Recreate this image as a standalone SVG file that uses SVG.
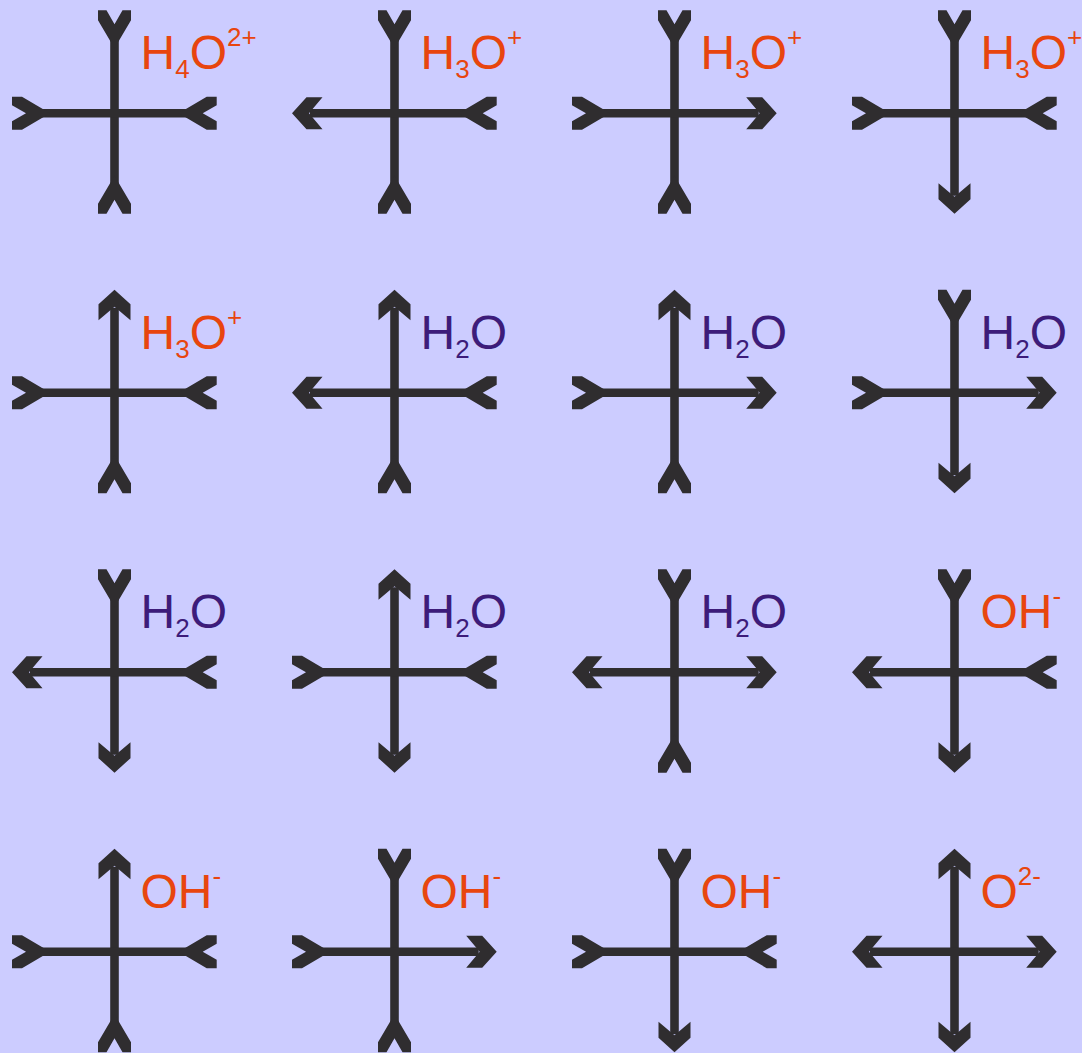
<svg xmlns="http://www.w3.org/2000/svg" xmlns:xlink="http://www.w3.org/1999/xlink" width="1082" height="1053" viewBox="0 0 1082 1053">
<style>
.s{stroke:#2f2d2f;stroke-width:8.6;stroke-linecap:butt}
.h{fill:#2f2d2f}
text{font-family:"Liberation Sans",Arial,sans-serif;font-size:48px}
.o{fill:#e8450e}
.p{fill:#3d1c7a}
.sb,.sp{font-size:26px}
</style>
<defs>
<g id="X"><line class="s" x1="0" y1="-85" x2="0" y2="82.5"/><line class="s" x1="-84.5" y1="0" x2="84.2" y2="0"/></g>
<path id="A" class="h" d="M0,0 L16,14.5 L16,30.5 L0,17 L-16,30.5 L-16,14.5 Z"/>
<path id="T" class="h" d="M-16.5,0 L-8,0 L0,14 L8,0 L16.5,0 L16.5,10 L0,38 L-16.5,10 Z"/>
</defs>
<rect width="1082" height="1053" fill="#ccccff"/>

<g id="n00" transform="translate(114.5,113.2)"><use href="#X"/>
<use href="#T" transform="translate(0,-103)"/><use href="#T" transform="translate(-102.5,0) rotate(-90)"/><use href="#T" transform="translate(102.2,0) rotate(90)"/><use href="#T" transform="translate(0,100.5) rotate(180)"/>
<text class="o" x="26" y="-44">H<tspan class="sb" dy="9">4</tspan><tspan dy="-9">O</tspan><tspan class="sp" dy="-23">2+</tspan></text></g>

<g id="n10" transform="translate(394.5,113.2)"><use href="#X"/>
<use href="#T" transform="translate(0,-103)"/><use href="#A" transform="translate(-102.5,0) rotate(-90)"/><use href="#T" transform="translate(102.2,0) rotate(90)"/><use href="#T" transform="translate(0,100.5) rotate(180)"/>
<text class="o" x="26" y="-44">H<tspan class="sb" dy="9">3</tspan><tspan dy="-9">O</tspan><tspan class="sp" dy="-23">+</tspan></text></g>

<g id="n20" transform="translate(674.5,113.2)"><use href="#X"/>
<use href="#T" transform="translate(0,-103)"/><use href="#T" transform="translate(-102.5,0) rotate(-90)"/><use href="#A" transform="translate(102.2,0) rotate(90)"/><use href="#T" transform="translate(0,100.5) rotate(180)"/>
<text class="o" x="26" y="-44">H<tspan class="sb" dy="9">3</tspan><tspan dy="-9">O</tspan><tspan class="sp" dy="-23">+</tspan></text></g>

<g id="n30" transform="translate(954.5,113.2)"><use href="#X"/>
<use href="#T" transform="translate(0,-103)"/><use href="#T" transform="translate(-102.5,0) rotate(-90)"/><use href="#T" transform="translate(102.2,0) rotate(90)"/><use href="#A" transform="translate(0,100.5) rotate(180)"/>
<text class="o" x="26" y="-44">H<tspan class="sb" dy="9">3</tspan><tspan dy="-9">O</tspan><tspan class="sp" dy="-23">+</tspan></text></g>

<g id="n01" transform="translate(114.5,392.7)"><use href="#X"/>
<use href="#A" transform="translate(0,-103)"/><use href="#T" transform="translate(-102.5,0) rotate(-90)"/><use href="#T" transform="translate(102.2,0) rotate(90)"/><use href="#T" transform="translate(0,100.5) rotate(180)"/>
<text class="o" x="26" y="-44">H<tspan class="sb" dy="9">3</tspan><tspan dy="-9">O</tspan><tspan class="sp" dy="-23">+</tspan></text></g>

<g id="n11" transform="translate(394.5,392.7)"><use href="#X"/>
<use href="#A" transform="translate(0,-103)"/><use href="#A" transform="translate(-102.5,0) rotate(-90)"/><use href="#T" transform="translate(102.2,0) rotate(90)"/><use href="#T" transform="translate(0,100.5) rotate(180)"/>
<text class="p" x="26" y="-44">H<tspan class="sb" dy="9">2</tspan><tspan dy="-9">O</tspan></text></g>

<g id="n21" transform="translate(674.5,392.7)"><use href="#X"/>
<use href="#A" transform="translate(0,-103)"/><use href="#T" transform="translate(-102.5,0) rotate(-90)"/><use href="#A" transform="translate(102.2,0) rotate(90)"/><use href="#T" transform="translate(0,100.5) rotate(180)"/>
<text class="p" x="26" y="-44">H<tspan class="sb" dy="9">2</tspan><tspan dy="-9">O</tspan></text></g>

<g id="n31" transform="translate(954.5,392.7)"><use href="#X"/>
<use href="#T" transform="translate(0,-103)"/><use href="#T" transform="translate(-102.5,0) rotate(-90)"/><use href="#A" transform="translate(102.2,0) rotate(90)"/><use href="#A" transform="translate(0,100.5) rotate(180)"/>
<text class="p" x="26" y="-44">H<tspan class="sb" dy="9">2</tspan><tspan dy="-9">O</tspan></text></g>

<g id="n02" transform="translate(114.5,672.2)"><use href="#X"/>
<use href="#T" transform="translate(0,-103)"/><use href="#A" transform="translate(-102.5,0) rotate(-90)"/><use href="#T" transform="translate(102.2,0) rotate(90)"/><use href="#A" transform="translate(0,100.5) rotate(180)"/>
<text class="p" x="26" y="-44">H<tspan class="sb" dy="9">2</tspan><tspan dy="-9">O</tspan></text></g>

<g id="n12" transform="translate(394.5,672.2)"><use href="#X"/>
<use href="#A" transform="translate(0,-103)"/><use href="#T" transform="translate(-102.5,0) rotate(-90)"/><use href="#T" transform="translate(102.2,0) rotate(90)"/><use href="#A" transform="translate(0,100.5) rotate(180)"/>
<text class="p" x="26" y="-44">H<tspan class="sb" dy="9">2</tspan><tspan dy="-9">O</tspan></text></g>

<g id="n22" transform="translate(674.5,672.2)"><use href="#X"/>
<use href="#T" transform="translate(0,-103)"/><use href="#A" transform="translate(-102.5,0) rotate(-90)"/><use href="#A" transform="translate(102.2,0) rotate(90)"/><use href="#T" transform="translate(0,100.5) rotate(180)"/>
<text class="p" x="26" y="-44">H<tspan class="sb" dy="9">2</tspan><tspan dy="-9">O</tspan></text></g>

<g id="n32" transform="translate(954.5,672.2)"><use href="#X"/>
<use href="#T" transform="translate(0,-103)"/><use href="#A" transform="translate(-102.5,0) rotate(-90)"/><use href="#T" transform="translate(102.2,0) rotate(90)"/><use href="#A" transform="translate(0,100.5) rotate(180)"/>
<text class="o" x="26" y="-44">OH<tspan class="sp" dy="-23">-</tspan></text></g>

<g id="n03" transform="translate(114.5,951.7)"><use href="#X"/>
<use href="#A" transform="translate(0,-103)"/><use href="#T" transform="translate(-102.5,0) rotate(-90)"/><use href="#T" transform="translate(102.2,0) rotate(90)"/><use href="#T" transform="translate(0,100.5) rotate(180)"/>
<text class="o" x="26" y="-44">OH<tspan class="sp" dy="-23">-</tspan></text></g>

<g id="n13" transform="translate(394.5,951.7)"><use href="#X"/>
<use href="#T" transform="translate(0,-103)"/><use href="#T" transform="translate(-102.5,0) rotate(-90)"/><use href="#A" transform="translate(102.2,0) rotate(90)"/><use href="#T" transform="translate(0,100.5) rotate(180)"/>
<text class="o" x="26" y="-44">OH<tspan class="sp" dy="-23">-</tspan></text></g>

<g id="n23" transform="translate(674.5,951.7)"><use href="#X"/>
<use href="#T" transform="translate(0,-103)"/><use href="#T" transform="translate(-102.5,0) rotate(-90)"/><use href="#T" transform="translate(102.2,0) rotate(90)"/><use href="#A" transform="translate(0,100.5) rotate(180)"/>
<text class="o" x="26" y="-44">OH<tspan class="sp" dy="-23">-</tspan></text></g>

<g id="n33" transform="translate(954.5,951.7)"><use href="#X"/>
<use href="#A" transform="translate(0,-103)"/><use href="#A" transform="translate(-102.5,0) rotate(-90)"/><use href="#A" transform="translate(102.2,0) rotate(90)"/><use href="#A" transform="translate(0,100.5) rotate(180)"/>
<text class="o" x="26" y="-44">O<tspan class="sp" dy="-23">2-</tspan></text></g>
</svg>
